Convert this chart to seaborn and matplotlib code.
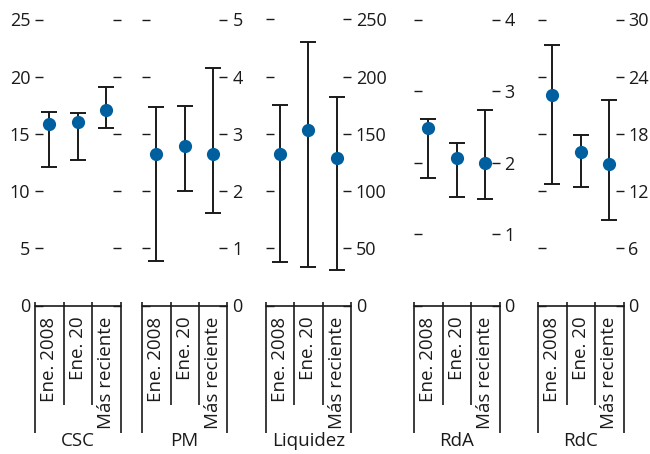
import matplotlib
matplotlib.use("Agg")
import matplotlib.pyplot as plt
import numpy as np
import pandas as pd
import seaborn as sns

# ---- data ----
categories = ["Ene. 2008", "Ene. 20", "Más reciente"]
panel_names = ["CSC", "PM", "Liquidez", "RdA", "RdC"]

csc_point = [15.9, 16.0, 17.1]
csc_low = [12.1, 12.7, 15.5]
csc_high = [16.9, 16.8, 19.1]

pm_point = [2.64, 2.78, 2.64]
pm_low = [0.78, 2.01, 1.62]
pm_high = [3.47, 3.49, 4.16]

liq_point = [132, 153, 129]
liq_low = [38, 34, 31]
liq_high = [175, 230, 182]

rda_point = [2.48, 2.06, 1.99]
rda_low = [1.78, 1.52, 1.49]
rda_high = [2.61, 2.27, 2.73]

rdc_point = [22.1, 16.1, 14.8]
rdc_low = [12.7, 12.4, 9.0]
rdc_high = [27.3, 17.9, 21.6]

y_ticks = [
    [0, 5, 10, 15, 20, 25],
    [0, 1, 2, 3, 4, 5],
    [0, 50, 100, 150, 200, 250],
    [0, 1, 2, 3, 4],
    [0, 6, 12, 18, 24, 30],
]

series = [
    (csc_point, csc_low, csc_high),
    (pm_point, pm_low, pm_high),
    (liq_point, liq_low, liq_high),
    (rda_point, rda_low, rda_high),
    (rdc_point, rdc_low, rdc_high),
]

# ---- style ----
sns.set_style("white")
plt.rcParams["font.family"] = ["Open Sans", "DejaVu Sans"]
FS_TICK = 13
FS_TEXT = 13.5
plt.rcParams["font.size"] = FS_TICK

W, H = 650, 454
fig = plt.figure(figsize=(W / 100, H / 100), dpi=100)

ink = "#1a1a1a"
dot = "#005f9e"

lefts_px = [35, 142, 265.5, 414, 538]
width_px = 85.5
y0_px = 305.5   # pixel row of value 0
ytop_px = 19.5  # pixel row of top tick

for i, (name, (pt, lo, hi), ticks) in enumerate(zip(panel_names, series, y_ticks)):
    ax = fig.add_axes([lefts_px[i] / W, (H - y0_px) / H,
                       width_px / W, (y0_px - ytop_px) / H])
    df = pd.DataFrame({
        "cat": categories * 3,
        "val": list(lo) + list(pt) + list(hi),
    })
    sns.pointplot(data=df, x="cat", y="val", order=categories,
                  estimator="median", errorbar=("pi", 100),
                  capsize=0.56, linestyle="none", marker="o",
                  color=ink, markersize=9.5, markeredgewidth=0,
                  err_kws={"linewidth": 1.4, "color": ink, "solid_capstyle": "butt"},
                  ax=ax)
    for ln in ax.lines:
        if ln.get_marker() == "o":
            ln.set_markerfacecolor(dot)
            ln.set_markeredgecolor(dot)
            ln.set_zorder(5)

    ax.set_ylim(0, ticks[-1])
    ax.set_xlim(-0.5, len(categories) - 0.5)
    ax.set_yticks(ticks)
    ax.set_xlabel("")
    ax.set_ylabel("")
    for s in ax.spines.values():
        s.set_visible(False)

    ax.tick_params(axis="y", direction="in", length=6, width=1, color=ink,
                   labelcolor=ink, left=True, right=True,
                   labelleft=(i == 0), labelright=(i > 0), pad=3.5, labelsize=FS_TICK)
    ax.set_xticks(range(len(categories)))
    ax.set_xticklabels(categories, rotation=90, ha="center", va="top")
    ax.tick_params(axis="x", length=0, pad=8, labelsize=FS_TEXT, labelcolor=ink)

    # bracket below the panel
    ax.axhline(0, color=ink, lw=1.2, clip_on=False)
    tr = ax.get_xaxis_transform()
    n = len(categories)
    for k in range(n + 1):
        xk = k - 0.5
        bottom = -0.446 if k in (0, n) else -0.348
        ax.plot([xk, xk], [0.013, bottom], transform=tr, color=ink,
                lw=1.2, clip_on=False, solid_capstyle="butt")

    ax.text(0.5, -0.474, name, transform=ax.transAxes, ha="center",
            va="center", fontsize=FS_TEXT, color=ink)

fig.savefig("out.png", dpi=100)
